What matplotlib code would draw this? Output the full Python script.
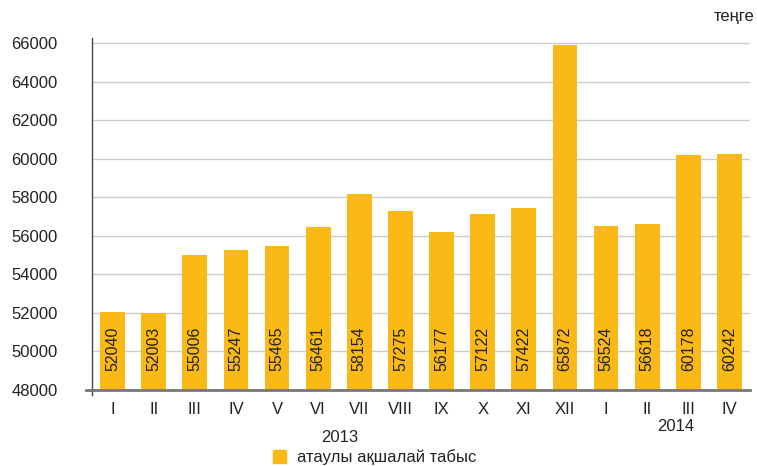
import matplotlib.pyplot as plt
import matplotlib.transforms as mtransforms
from matplotlib.patches import Rectangle

plt.rcParams['font.family'] = ['Liberation Sans', 'DejaVu Sans']

months = ["I", "II", "III", "IV", "V", "VI", "VII", "VIII", "IX", "X", "XI", "XII",
          "I", "II", "III", "IV"]
income = [52040, 52003, 55006, 55247, 55465, 56461, 58154, 57275, 56177, 57122,
          57422, 65872, 56524, 56618, 60178, 60242]
years = ["2013", "2014"]
yticks = list(range(48000, 66001, 2000))

barColor = "#FBB916"
textColor = "#222222"

fig = plt.figure(figsize=(7.57, 4.66), dpi=100)
ax = fig.add_axes([92 / 757, 1 - 390 / 466, (750 - 92) / 757, (390 - 38) / 466])

x = list(range(len(income)))
ax.bar(x, [v - 48000 for v in income], bottom=48000, width=0.6, color=barColor, zorder=2)

for i, v in enumerate(income):
    ax.text(i, 50150, str(v), rotation=90, ha="center", va="center",
            fontsize=11.5, color=textColor, zorder=3)

ax.set_xlim(-0.5, len(income) - 0.5)
ax.set_ylim(48000, 66260)
ax.set_yticks(yticks)
ax.set_yticklabels([str(t) for t in yticks], fontsize=12, color=textColor)
ax.set_xticks(x)
ax.set_xticklabels(months, fontsize=12, color=textColor)
ax.tick_params(axis="both", length=0)
ax.tick_params(axis="y", pad=58)
ax.tick_params(axis="x", pad=9)
for lab in ax.get_yticklabels():
    lab.set_horizontalalignment("left")

ax.grid(axis="y", color="#cccccc", linewidth=1, zorder=0)
ax.set_axisbelow(True)
for s in ["top", "right"]:
    ax.spines[s].set_visible(False)
ax.spines["left"].set_color("#444444")
ax.spines["left"].set_linewidth(1)
ax.spines["left"].set_bounds(48000, 66260)
ax.spines["bottom"].set_color("#777777")
ax.spines["bottom"].set_linewidth(2)

# small overhang of the base line and the y axis, as in the original
ax.plot([-0.65, -0.5], [48000, 48000], color="#777777", linewidth=2, clip_on=False)
ax.plot([-0.5, -0.5], [48000, 47750], color="#444444", linewidth=1, clip_on=False)

trans = mtransforms.blended_transform_factory(ax.transData, ax.transAxes)
ax.text(5.52, -0.135, years[0], transform=trans, ha="center", va="center",
        fontsize=12, color=textColor)
ax.text(13.7, -0.105, years[1], transform=trans, ha="center", va="center",
        fontsize=12, color=textColor)

fig.text(755 / 757, 1 - 16 / 466, "теңге", ha="right", va="center",
         fontsize=12, color=textColor)

fig.patches.append(Rectangle((273 / 757, 1 - 463 / 466), 13 / 757, 13 / 466,
                             transform=fig.transFigure, color=barColor))
fig.text(297 / 757, 1 - 457 / 466, "атаулы ақшалай табыс", ha="left", va="center",
         fontsize=12, color=textColor)

fig.savefig("out.png", dpi=100)
